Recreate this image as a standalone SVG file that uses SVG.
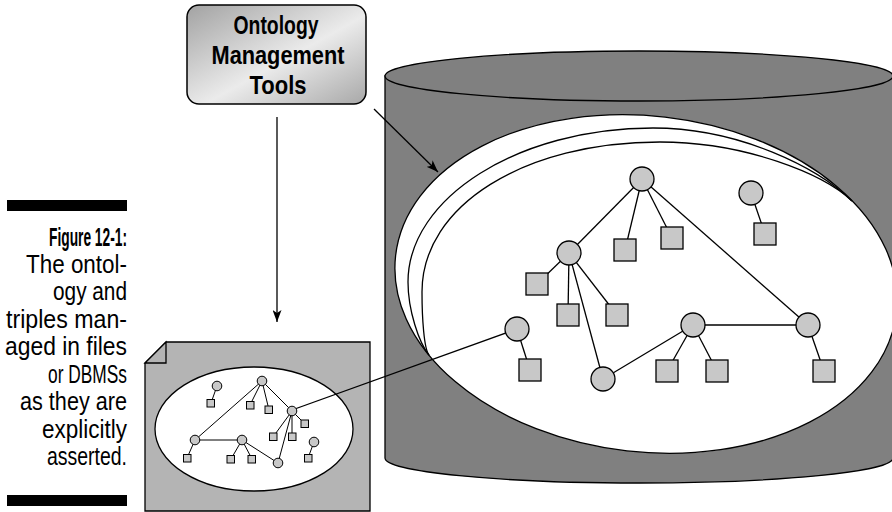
<svg xmlns="http://www.w3.org/2000/svg" width="892" height="512" viewBox="0 0 892 512">
<defs>
<linearGradient id="metal" x1="0" y1="0" x2="1" y2="1">
<stop offset="0" stop-color="#a2a2a2"/>
<stop offset="0.45" stop-color="#dedede"/>
<stop offset="0.55" stop-color="#ebebeb"/>
<stop offset="1" stop-color="#a8a8a8"/>
</linearGradient>
<marker id="arr" markerUnits="userSpaceOnUse" markerWidth="13" markerHeight="9" refX="12" refY="4.5" orient="auto">
<path d="M0,0 L12,4.5 L0,9 L3,4.5 Z" fill="#000"/>
</marker>
<style>
.e{stroke:#000;stroke-width:1.3;fill:none}
.es{stroke:#000;stroke-width:1;fill:none}
.n{fill:#c8c8c8;stroke:#000;stroke-width:1.3}
.ns{fill:#c8c8c8;stroke:#000;stroke-width:1}
.cap{font-family:"Liberation Sans",Arial,sans-serif;font-size:25px;fill:#000;text-anchor:end}
.tt{font-family:"Liberation Sans",Arial,sans-serif;font-size:26px;font-weight:bold;fill:#000;text-anchor:middle}
</style>
</defs>
<rect width="892" height="512" fill="#fff"/>

<!-- caption -->
<g id="caption">
<rect x="7" y="200" width="120" height="11" fill="#000"/>
<text class="cap" x="127" y="246" font-weight="bold" textLength="78" lengthAdjust="spacingAndGlyphs">Figure 12-1:</text>
<text class="cap" x="127" y="273" textLength="101" lengthAdjust="spacingAndGlyphs">The ontol-</text>
<text class="cap" x="127" y="300" textLength="74" lengthAdjust="spacingAndGlyphs">ogy and</text>
<text class="cap" x="127" y="328" textLength="121" lengthAdjust="spacingAndGlyphs">triples man-</text>
<text class="cap" x="127" y="355" textLength="122" lengthAdjust="spacingAndGlyphs">aged in files</text>
<text class="cap" x="127" y="383" textLength="79" lengthAdjust="spacingAndGlyphs">or DBMSs</text>
<text class="cap" x="127" y="410" textLength="107" lengthAdjust="spacingAndGlyphs">as they are</text>
<text class="cap" x="127" y="438" textLength="85" lengthAdjust="spacingAndGlyphs">explicitly</text>
<text class="cap" x="127" y="465" textLength="80" lengthAdjust="spacingAndGlyphs">asserted.</text>
<rect x="7" y="495" width="120" height="11" fill="#000"/>
</g>

<!-- database cylinder -->
<g id="database">
<path d="M385,76 V458 A254,25 0 0 0 893,458 V76 Z" fill="#808080" stroke="#000" stroke-width="1.3"/>
<ellipse cx="639" cy="76" rx="254" ry="25" fill="#808080" stroke="#000" stroke-width="1.3"/>
<ellipse cx="646" cy="284" rx="252" ry="168" transform="rotate(6.5 646 284)" fill="#fff" stroke="#000" stroke-width="1.3"/>
<path d="M429,355 C419,343 408,310 408,282 C408,198 518,128 653,128 C740,128 818,168 852,201" class="e"/>
<path d="M429,355 C424,349 422,318 422,292 C422,205 525,142 660,142 C745,142 824,174 852,201" class="e"/>
</g>

<!-- document -->
<g id="document">
<path d="M166,342 H370 V511 H145 V363 Z" fill="#b4b4b4" stroke="#000" stroke-width="1.3"/>
<path d="M145,363 L166,342 V363 Z" fill="#b4b4b4" stroke="#000" stroke-width="1.3"/>
<ellipse cx="254" cy="429" rx="99" ry="62" fill="#fff" stroke="#000" stroke-width="1.3"/>
</g>

<!-- tools box -->
<g id="tools">
<rect x="187" y="5" width="179" height="99" rx="12" ry="12" fill="url(#metal)" stroke="#000" stroke-width="1.5"/>
<text class="tt" x="276" y="34" textLength="85" lengthAdjust="spacingAndGlyphs">Ontology</text>
<text class="tt" x="278" y="64" textLength="133" lengthAdjust="spacingAndGlyphs">Management</text>
<text class="tt" x="278" y="94" textLength="57" lengthAdjust="spacingAndGlyphs">Tools</text>
</g>

<!-- connectors -->
<g id="connectors">
<line x1="277" y1="117" x2="277" y2="322" class="e" marker-end="url(#arr)"/>
<line x1="374" y1="109" x2="438" y2="172" class="e" marker-end="url(#arr)"/>
<!-- big graph edges -->
<line x1="642" y1="179" x2="569" y2="253" class="e"/>
<line x1="642" y1="179" x2="625" y2="250" class="e"/>
<line x1="642" y1="179" x2="672" y2="238" class="e"/>
<line x1="642" y1="179" x2="808" y2="325" class="e"/>
<line x1="569" y1="253" x2="537" y2="284" class="e"/>
<line x1="569" y1="253" x2="568" y2="315" class="e"/>
<line x1="569" y1="253" x2="617" y2="315" class="e"/>
<line x1="569" y1="253" x2="603" y2="379" class="e"/>
<line x1="517" y1="329" x2="530" y2="370" class="e"/>
<line x1="603" y1="379" x2="693" y2="325" class="e"/>
<line x1="693" y1="325" x2="667" y2="371" class="e"/>
<line x1="693" y1="325" x2="717" y2="371" class="e"/>
<line x1="693" y1="325" x2="808" y2="325" class="e"/>
<line x1="808" y1="325" x2="824" y2="371" class="e"/>
<line x1="751" y1="193" x2="765" y2="234" class="e"/>
<!-- small graph edges -->
<line x1="217" y1="386" x2="211" y2="403" class="es"/>
<line x1="262" y1="381" x2="250" y2="405" class="es"/>
<line x1="262" y1="381" x2="269" y2="410" class="es"/>
<line x1="262" y1="381" x2="292" y2="411" class="es"/>
<line x1="262" y1="381" x2="195" y2="440" class="es"/>
<line x1="292" y1="411" x2="305" y2="424" class="es"/>
<line x1="292" y1="411" x2="273" y2="437" class="es"/>
<line x1="292" y1="411" x2="292" y2="437" class="es"/>
<line x1="292" y1="411" x2="278" y2="463" class="es"/>
<line x1="195" y1="440" x2="242" y2="440" class="es"/>
<line x1="195" y1="440" x2="187" y2="458" class="es"/>
<line x1="242" y1="440" x2="231" y2="459" class="es"/>
<line x1="242" y1="440" x2="252" y2="459" class="es"/>
<line x1="242" y1="440" x2="278" y2="463" class="es"/>
<line x1="314" y1="442" x2="308" y2="458" class="es"/>
<!-- link between the two graphs -->
<line x1="292" y1="410" x2="517" y2="329" class="e"/>
</g>

<!-- big graph nodes -->
<g id="big-nodes">
<circle id="C1" cx="642" cy="179" r="12" class="n"/>
<circle id="C2" cx="569" cy="253" r="12" class="n"/>
<circle id="C3" cx="517" cy="329" r="12" class="n"/>
<circle id="C4" cx="603" cy="379" r="12" class="n"/>
<circle id="C5" cx="693" cy="325" r="12" class="n"/>
<circle id="C6" cx="808" cy="325" r="12" class="n"/>
<circle id="C7" cx="751" cy="193" r="12" class="n"/>
<rect id="S1" x="614" y="239" width="22" height="22" class="n"/>
<rect id="S2" x="661" y="227" width="22" height="22" class="n"/>
<rect id="S3" x="526" y="273" width="22" height="22" class="n"/>
<rect id="S4" x="557" y="304" width="22" height="22" class="n"/>
<rect id="S5" x="606" y="304" width="22" height="22" class="n"/>
<rect id="S6" x="519" y="359" width="22" height="22" class="n"/>
<rect id="S7" x="656" y="360" width="22" height="22" class="n"/>
<rect id="S8" x="706" y="360" width="22" height="22" class="n"/>
<rect id="S9" x="813" y="360" width="22" height="22" class="n"/>
<rect id="S10" x="754" y="223" width="22" height="22" class="n"/>
</g>

<!-- small graph nodes -->
<g id="small-nodes">
<circle id="c1" cx="217" cy="386" r="4.8" class="ns"/>
<circle id="c2" cx="262" cy="381" r="4.8" class="ns"/>
<circle id="c3" cx="292" cy="411" r="4.8" class="ns"/>
<circle id="c4" cx="195" cy="440" r="4.8" class="ns"/>
<circle id="c5" cx="242" cy="440" r="4.8" class="ns"/>
<circle id="c6" cx="278" cy="463" r="4.8" class="ns"/>
<circle id="c7" cx="314" cy="442" r="4.8" class="ns"/>
<rect id="s1" x="207" y="399.5" width="7.5" height="7.5" class="ns"/>
<rect id="s2" x="246.5" y="401.5" width="7.5" height="7.5" class="ns"/>
<rect id="s3" x="265" y="406" width="7.5" height="7.5" class="ns"/>
<rect id="s4" x="301" y="420" width="7.5" height="7.5" class="ns"/>
<rect id="s5" x="269.5" y="433" width="7.5" height="7.5" class="ns"/>
<rect id="s6" x="288.5" y="433" width="7.5" height="7.5" class="ns"/>
<rect id="s7" x="183.5" y="454.5" width="7.5" height="7.5" class="ns"/>
<rect id="s8" x="227" y="455.5" width="7.5" height="7.5" class="ns"/>
<rect id="s9" x="248" y="455.5" width="7.5" height="7.5" class="ns"/>
<rect id="s10" x="304.5" y="454.5" width="7.5" height="7.5" class="ns"/>
</g>
</svg>
